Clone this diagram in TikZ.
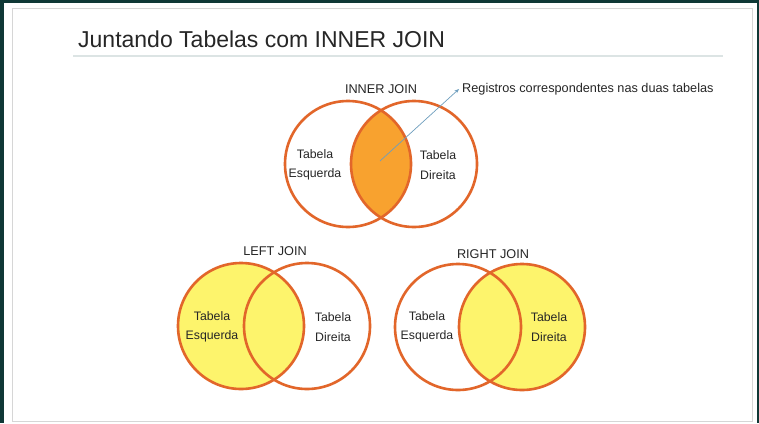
\documentclass[tikz,border=0pt]{standalone}
\usepackage{fontspec}
\setmainfont{Liberation Sans}
\usetikzlibrary{arrows.meta}
\definecolor{bgdark}{HTML}{0F3836}
\definecolor{frame}{HTML}{D6D6D6}
\definecolor{rulecol}{HTML}{DCE4E4}
\definecolor{ring}{HTML}{E2662A}
\definecolor{lens}{HTML}{F8A22F}
\definecolor{sun}{HTML}{FDF46C}
\definecolor{pointer}{HTML}{6E9EBE}
\definecolor{ink}{HTML}{262626}
\begin{document}
\begin{tikzpicture}[x=1pt,y=-1pt,
  set/.style={circle, draw=ring, line width=2.6pt, minimum size=126pt, inner sep=0pt},
  caption/.style={text=ink, inner sep=0pt, font=\fontsize{12.7}{14}\selectfont},
  tag/.style={text=ink, align=center, inner sep=0pt, font=\fontsize{12.3}{19.5}\selectfont}]
  % slide background and frame
  \fill[bgdark] (0,0) rectangle (759,423);
  \fill[white] (4,3) rectangle (757,423);
  \draw[frame, line width=1pt] (12,8) rectangle (752,421);
  \useasboundingbox (0,0) rectangle (759,423);

  % title and rule
  \node[anchor=base west, inner sep=0pt, text=ink, font=\fontsize{23}{28}\selectfont] (title) at (78,47) {Juntando Tabelas com INNER JOIN};
  \draw[rulecol, line width=1.5pt] (73,56) -- (723,56);

  % INNER JOIN: only the overlap is filled
  \begin{scope}
    \clip (348,164) circle[radius=63pt];
    \fill[lens] (414,164) circle[radius=63pt];
  \end{scope}
  \node[set] (il) at (348,164) {};
  \node[set] (ir) at (414,164) {};
  \node[caption] (ijt) at (381,89) {INNER JOIN};
  \node[tag] (ilt) at (315,165) {Tabela\\Esquerda};
  \node[tag] (irt) at (438,165) {Tabela\\Direita};
  \node[caption, anchor=west, inner sep=3pt] (reg) at (459,89) {Registros correspondentes nas duas tabelas};
  \coordinate (hit) at (380,161);
  \draw[pointer, line width=0.7pt, -{Stealth[length=4.5pt,width=3.5pt]}] (hit) -- (reg.west);

  % LEFT JOIN: the whole left set is filled
  \fill[sun] (241,326) circle[radius=63pt];
  \node[set] (ll) at (241,326) {};
  \node[set] (lr) at (307,326) {};
  \node[caption] (ljt) at (275,251) {LEFT JOIN};
  \node[tag] (llt) at (212,327) {Tabela\\Esquerda};
  \node[tag] (lrt) at (333,327) {Tabela\\Direita};

  % RIGHT JOIN: the whole right set is filled
  \fill[sun] (522,327) circle[radius=63pt];
  \node[set] (rl) at (458,327) {};
  \node[set] (rr) at (522,327) {};
  \node[caption] (rjt) at (493,254) {RIGHT JOIN};
  \node[tag] (rlt) at (427,327) {Tabela\\Esquerda};
  \node[tag] (rrt) at (549,327) {Tabela\\Direita};
\end{tikzpicture}
\end{document}
